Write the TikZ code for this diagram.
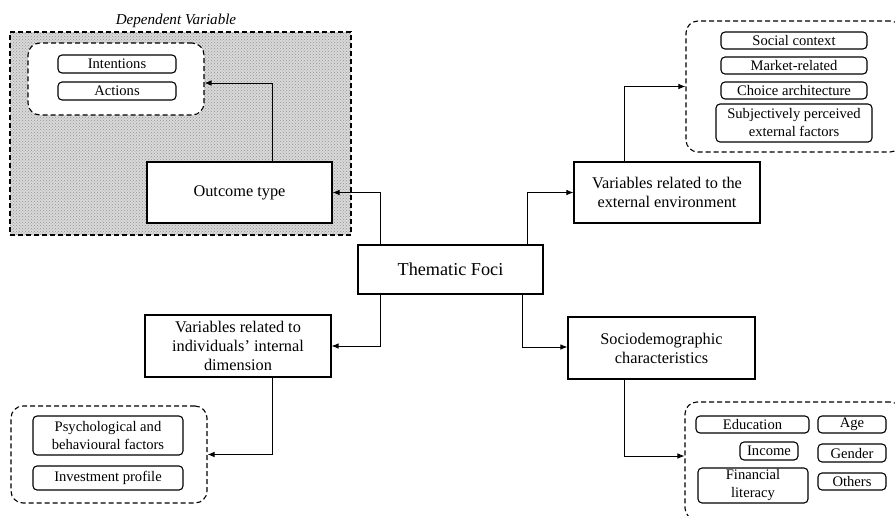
\documentclass[tikz,border=0pt]{standalone}
\usepackage{fontspec}
\setmainfont{Liberation Serif}
\usetikzlibrary{arrows.meta,patterns}
\begin{document}
\begin{tikzpicture}[x=1pt,y=-1pt,
  bigbox/.style={draw,line width=1.2pt,fill=white,inner sep=0pt,align=center,font=\fontsize{16.3}{19}\selectfont},
  smallbox/.style={draw,rounded corners=4pt,line width=1.1pt,fill=white,inner sep=0pt,align=center,font=\fontsize{14.6}{18}\selectfont},
  grpbox/.style={draw,dashed,dash pattern=on 5pt off 3pt,rounded corners=12pt,line width=1.1pt,fill=white,inner sep=0pt},
  conn/.style={line width=0.8pt,-{Latex[length=7pt,width=5.5pt]}}]
\clip (0,0) rectangle (895,515);
\fill[white] (0,0) rectangle (895,515);
% dependent variable shaded area
\node[draw,dashed,dash pattern=on 5pt off 3pt,line width=1.1pt,inner sep=0pt,
  minimum width=341pt,minimum height=203pt,
  preaction={fill=gray!30},pattern=crosshatch dots,pattern color=gray!85] (dv) at (180.5,133.5) {};
\node[font=\itshape\fontsize{15.1}{18}\selectfont] (dvlabel) at (176,21) {Dependent Variable};
\node[grpbox,minimum width=176pt,minimum height=72pt] (outgrp) at (116,79) {};
\node[smallbox,minimum width=118pt,minimum height=18pt] (intent) at (117,64) {Intentions};
\node[smallbox,minimum width=118pt,minimum height=18pt] (actions) at (117,91) {Actions};
\node[bigbox,minimum width=185pt,minimum height=61pt] (outcome) at (239.5,192.5) {Outcome type};
% central
\node[bigbox,minimum width=185pt,minimum height=49pt,font=\fontsize{18.2}{21}\selectfont] (thematic) at (450.5,269.5) {Thematic Foci};
% external environment
\node[bigbox,minimum width=186pt,minimum height=61pt] (external) at (667,192.5) {Variables related to the\\external environment};
\node[grpbox,minimum width=216pt,minimum height=131pt] (extgrp) at (794,86.5) {};
\node[smallbox,minimum width=146pt,minimum height=17pt] (social) at (794,40.5) {Social context};
\node[smallbox,minimum width=146pt,minimum height=17pt] (market) at (794,65.5) {Market-related};
\node[smallbox,minimum width=146pt,minimum height=17pt] (choice) at (794,90.5) {Choice architecture};
\node[smallbox,minimum width=156pt,minimum height=38pt] (subj) at (794,123) {Subjectively perceived\\external factors};
% internal dimension
\node[bigbox,minimum width=186pt,minimum height=62pt] (internal) at (238,346) {Variables related to\\individuals’ internal\\dimension};
\node[grpbox,minimum width=196pt,minimum height=97pt] (intgrp) at (109,454.5) {};
\node[smallbox,minimum width=150pt,minimum height=39pt] (psych) at (108,435.5) {Psychological and\\behavioural factors};
\node[smallbox,minimum width=150pt,minimum height=24pt] (invest) at (108,478) {Investment profile};
% sociodemographic
\node[bigbox,minimum width=187pt,minimum height=62pt] (socio) at (661.5,348) {Sociodemographic\\characteristics};
\node[grpbox,minimum width=217pt,minimum height=118pt] (sociogrp) at (793.5,461) {};
\node[smallbox,minimum width=113pt,minimum height=17pt] (educ) at (752.5,424.5) {Education};
\node[smallbox,minimum width=68pt,minimum height=17pt] (age) at (852,424.5) {Age};
\node[smallbox,minimum width=58pt,minimum height=18pt] (income) at (769,451) {Income};
\node[smallbox,minimum width=68pt,minimum height=18pt] (gender) at (852,453) {Gender};
\node[smallbox,minimum width=110pt,minimum height=35pt] (finlit) at (753,485.5) {Financial\\literacy};
\node[smallbox,minimum width=68pt,minimum height=17pt] (others) at (852,481.5) {Others};
% connectors
\draw[conn] ([xshift=23pt]thematic.north west) |- (outcome.east);
\draw[conn] ([xshift=126pt]outcome.north west) |- ([yshift=-4pt]outgrp.east);
\draw[conn] ([xshift=23pt]thematic.south west) |- (internal.east);
\draw[conn] ([xshift=128pt]internal.south west) |- (intgrp.east);
\draw[conn] ([xshift=-16pt]thematic.north east) |- (external.west);
\draw[conn] ([xshift=51pt]external.north west) |- (extgrp.west);
\draw[conn] ([xshift=-21pt]thematic.south east) |- ([yshift=1pt]socio.west);
\draw[conn] ([xshift=57pt]socio.south west) |- ([yshift=5pt]sociogrp.west);
\end{tikzpicture}
\end{document}
